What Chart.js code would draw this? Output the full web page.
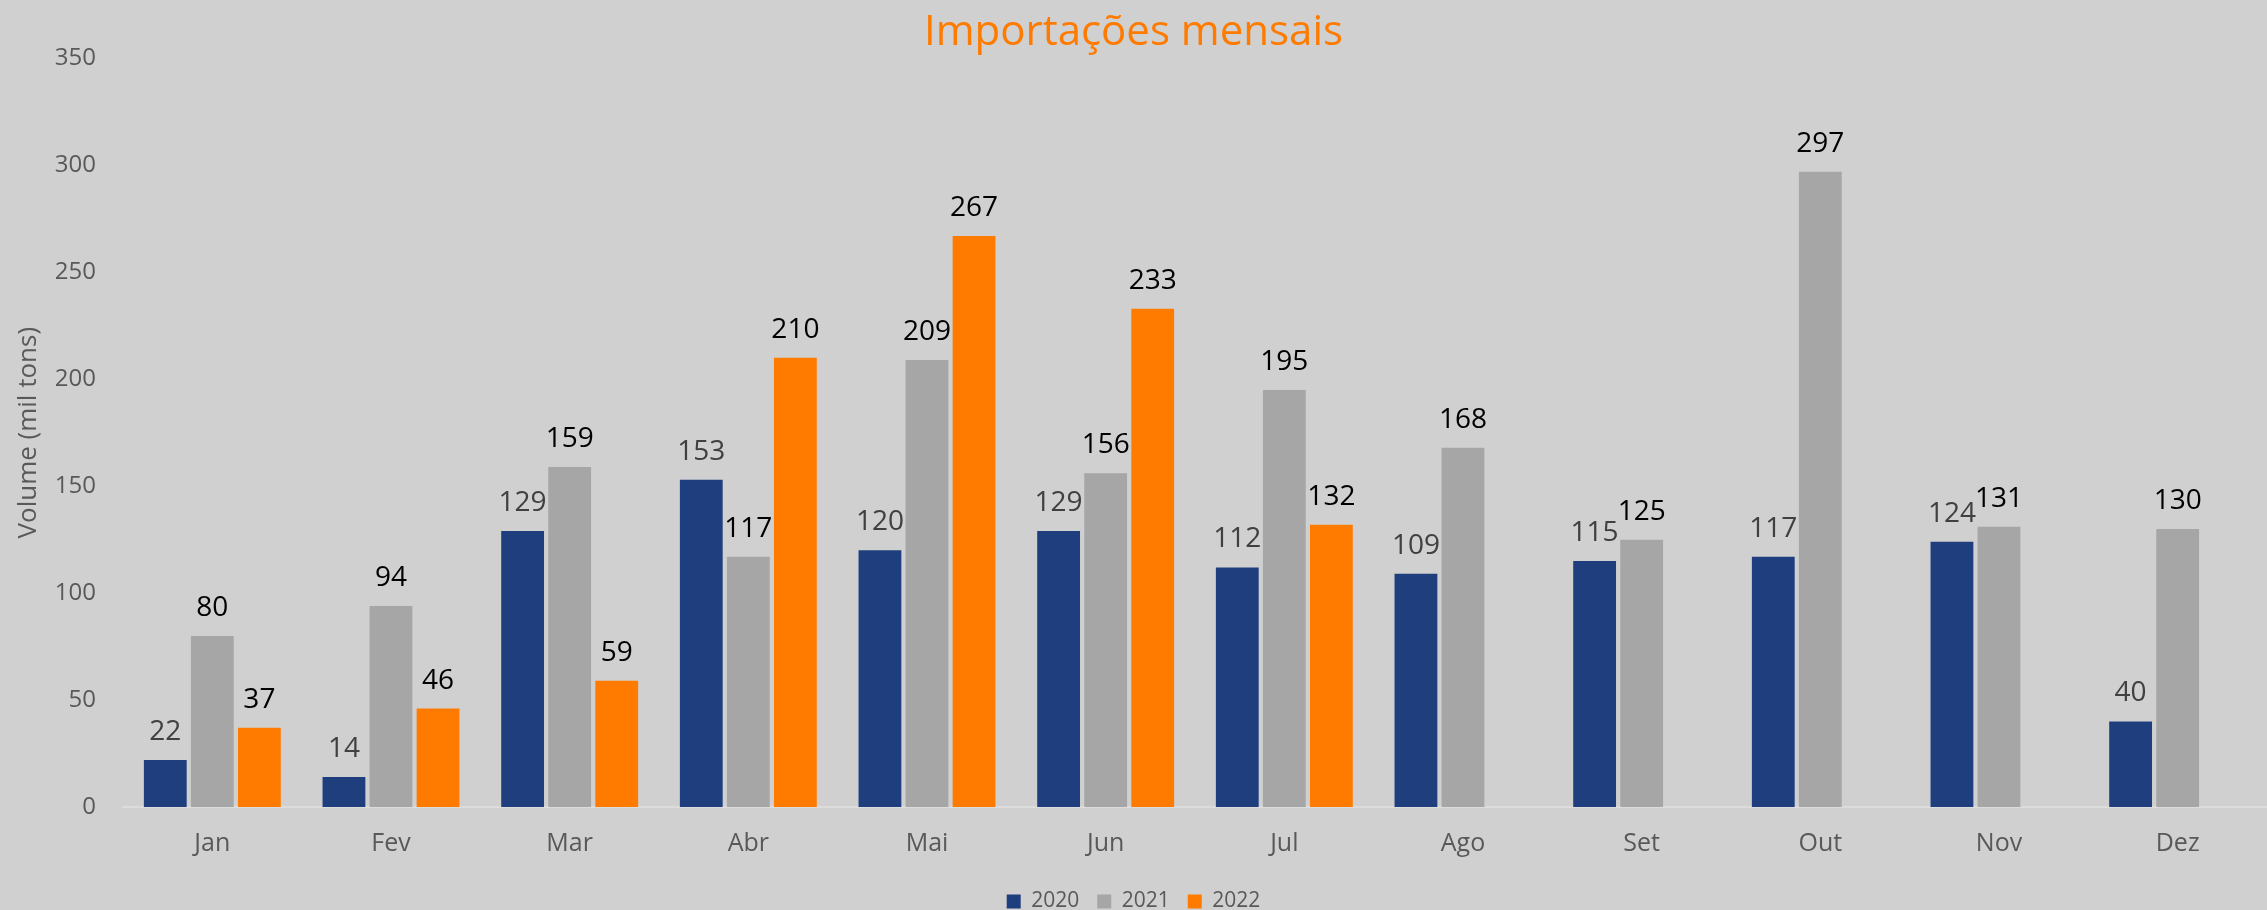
<!DOCTYPE html>
<html>
<head>
<meta charset="utf-8">
<script src="https://cdn.jsdelivr.net/npm/chart.js@4/dist/chart.umd.min.js"></script>
<style>
  html, body { margin: 0; padding: 0; background: #d0d0d0; }
  #wrap { width: 2267px; height: 910px; }
</style>
</head>
<body>
<div id="wrap"><canvas id="importChart" width="2267" height="910"></canvas></div>
<script>
// Meses (eixo x)
const months = ['Jan', 'Fev', 'Mar', 'Abr', 'Mai', 'Jun', 'Jul', 'Ago', 'Set', 'Out', 'Nov', 'Dez'];

// Volumes em mil tons
const values2020 = [22, 14, 129, 153, 120, 129, 112, 109, 115, 117, 124, 40];
const values2021 = [80, 94, 159, 117, 209, 156, 195, 168, 125, 297, 131, 130];
const values2022 = [37, 46, 59, 210, 267, 233, 132, null, null, null, null, null];

const yTicks = [0, 50, 100, 150, 200, 250, 300, 350];

const FONT = "'Open Sans', 'Noto Sans', sans-serif";

// Fundo cinza do gráfico
const backgroundPlugin = {
    id: 'background',
    beforeDraw(chart) {
        const ctx = chart.ctx;
        ctx.save();
        ctx.fillStyle = '#d0d0d0';
        ctx.fillRect(0, 0, chart.width, chart.height);
        ctx.restore();
    }
};

// Rótulos de valor acima de cada barra
const valueLabelsPlugin = {
    id: 'valueLabels',
    afterDatasetsDraw(chart) {
        const ctx = chart.ctx;
        ctx.save();
        ctx.font = '28px ' + FONT;
        ctx.textAlign = 'center';
        ctx.textBaseline = 'alphabetic';
        chart.data.datasets.forEach((ds, i) => {
            const meta = chart.getDatasetMeta(i);
            if (meta.hidden) return;
            ctx.fillStyle = ds.labelColor;
            meta.data.forEach((bar, j) => {
                const v = ds.data[j];
                if (v === null || v === undefined) return;
                ctx.fillText(String(v), bar.x, bar.y - 20);
            });
        });
        ctx.restore();
    }
};

const chart = new Chart(document.getElementById('importChart'), {
    type: 'bar',
    data: {
        labels: months,
        datasets: [
            { label: '2020', data: values2020, backgroundColor: '#1f3e7d', labelColor: '#404040' },
            { label: '2021', data: values2021, backgroundColor: '#a6a6a6', labelColor: '#000000' },
            { label: '2022', data: values2022, backgroundColor: '#ff7b00', labelColor: '#000000' }
        ]
    },
    options: {
        responsive: false,
        animation: false,
        layout: { padding: { left: 0, right: 0, top: 0, bottom: -12 } },
        datasets: {
            bar: { categoryPercentage: 0.79, barPercentage: 0.91 }
        },
        plugins: {
            title: {
                display: true,
                text: 'Importações mensais',
                color: '#ff7b00',
                font: { family: FONT, size: 42, weight: 'normal', lineHeight: 1.2 },
                padding: { top: 8, bottom: 0 }
            },
            legend: {
                position: 'bottom',
                labels: {
                    boxWidth: 14,
                    boxHeight: 14,
                    padding: 18,
                    color: '#595959',
                    font: { family: FONT, size: 21 }
                }
            },
            tooltip: { enabled: false }
        },
        scales: {
            x: {
                grid: { display: false, drawTicks: false },
                border: { display: true, color: '#dcdcdc', width: 2 },
                ticks: { color: '#595959', font: { family: FONT, size: 25 }, padding: 22 },
                afterFit(scale) { scale.height = 66; }
            },
            y: {
                min: 0,
                max: 350,
                grid: { display: false, drawTicks: false },
                border: { display: false },
                afterBuildTicks(scale) { scale.ticks = yTicks.map(v => ({ value: v })); },
                ticks: { color: '#595959', font: { family: FONT, size: 24 }, padding: 27 },
                title: {
                    display: true,
                    text: 'Volume (mil tons)',
                    color: '#595959',
                    font: { family: FONT, size: 26 },
                    padding: { top: 13, bottom: 4 }
                },
                afterFit(scale) { scale.width = 123; }
            }
        }
    },
    plugins: [backgroundPlugin, valueLabelsPlugin]
});
</script>
</body>
</html>
